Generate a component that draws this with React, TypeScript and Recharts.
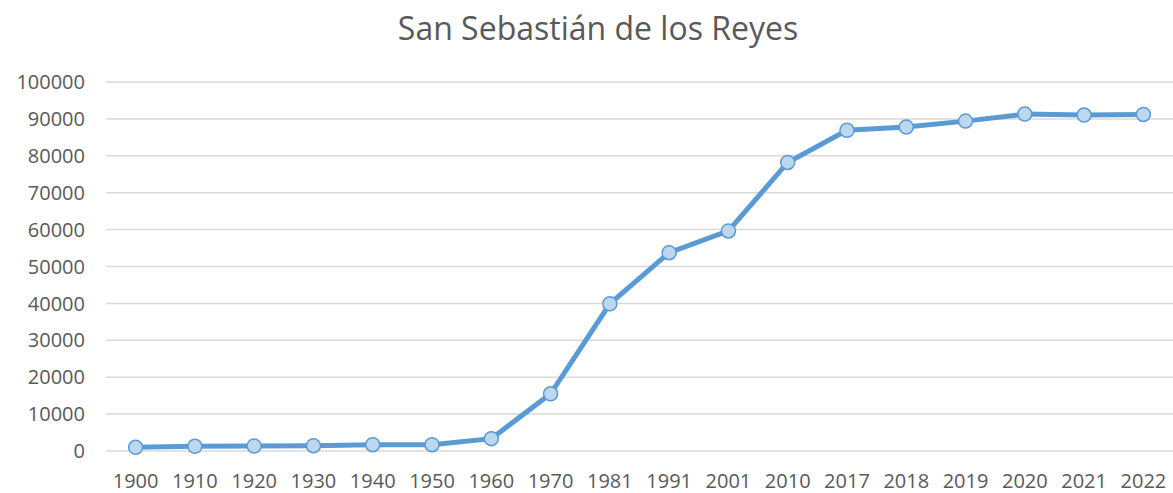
import React from 'react';
import { LineChart, Line, XAxis, YAxis, CartesianGrid } from 'recharts';

const years = [
  '1900', '1910', '1920', '1930', '1940', '1950', '1960', '1970', '1981',
  '1991', '2001', '2010', '2017', '2018', '2019', '2020', '2021', '2022',
];
const population = [
  1000, 1270, 1360, 1450, 1720, 1720, 3350, 15500, 39900,
  53750, 59640, 78200, 86900, 87800, 89400, 91300, 91040, 91220,
];
const yTicks = [0, 10000, 20000, 30000, 40000, 50000, 60000, 70000, 80000, 90000, 100000];

const data = years.map((year, i) => ({ year, population: population[i] }));

const textColor = '#595959';
const font = '"Open Sans", sans-serif';

export default function App() {
  return (
    <div style={{ position: 'absolute', left: 0, top: 0, width: 1173, height: 493, background: '#fff', fontFamily: font }}>
      <div
        style={{
          position: 'absolute',
          left: 598,
          top: 6,
          transform: 'translateX(-50%)',
          whiteSpace: 'nowrap',
          fontSize: 32,
          color: textColor,
          lineHeight: '44px',
        }}
      >
        San Sebastián de los Reyes
      </div>
      <LineChart
        width={1173}
        height={493}
        data={data}
        margin={{ top: 82, right: 0, bottom: 0, left: 0 }}
      >
        <CartesianGrid vertical={false} stroke="#D9D9D9" strokeWidth={1.5} />
        <XAxis
          dataKey="year"
          axisLine={false}
          tickLine={false}
          height={42}
          tickMargin={17}
          interval={0}
          padding={{ left: 29.6, right: 29.6 }}
          tick={{ fill: textColor, fontSize: 20, fontFamily: font }}
        />
        <YAxis
          domain={[0, 100000]}
          ticks={yTicks}
          axisLine={false}
          tickLine={false}
          width={106}
          tickMargin={15}
          interval={0}
          tick={{ fill: textColor, fontSize: 20, fontFamily: font }}
        />
        <Line
          type="linear"
          dataKey="population"
          stroke="#5B9BD5"
          strokeWidth={5}
          dot={{ r: 7, fill: '#BDD7EE', stroke: '#5B9BD5', strokeWidth: 1.5 }}
          isAnimationActive={false}
        />
      </LineChart>
    </div>
  );
}
